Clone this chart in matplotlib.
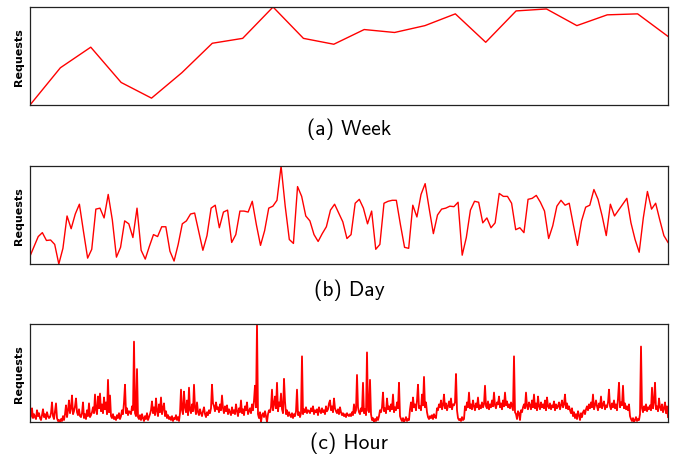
import numpy as np
import matplotlib.pyplot as plt

# Weekly request volume (relative units)
week = [0.00, 0.38, 0.59, 0.23, 0.07, 0.33, 0.63, 0.68, 1.00, 0.68, 0.62,
        0.77, 0.74, 0.81, 0.93, 0.64, 0.96, 0.98, 0.81, 0.92, 0.93, 0.70]

# Daily request volume (relative units)
day = [0.08, 0.18, 0.28, 0.32, 0.24, 0.245, 0.20, 0.00, 0.16, 0.49,
       0.36, 0.51, 0.61, 0.33, 0.06, 0.15, 0.56, 0.57, 0.47, 0.71,
       0.45, 0.07, 0.17, 0.44, 0.41, 0.27, 0.57, 0.14, 0.05, 0.18,
       0.30, 0.28, 0.38, 0.38, 0.13, 0.03, 0.20, 0.41, 0.44, 0.51,
       0.52, 0.33, 0.14, 0.29, 0.57, 0.60, 0.37, 0.53, 0.55, 0.22,
       0.30, 0.54, 0.54, 0.53, 0.64, 0.40, 0.19, 0.34, 0.57, 0.59,
       0.65, 1.00, 0.59, 0.25, 0.21, 0.79, 0.69, 0.49, 0.44, 0.30,
       0.23, 0.31, 0.38, 0.55, 0.61, 0.52, 0.43, 0.26, 0.30, 0.62,
       0.66, 0.57, 0.41, 0.54, 0.15, 0.20, 0.62, 0.64, 0.65, 0.65,
       0.40, 0.17, 0.16, 0.60, 0.48, 0.71, 0.82, 0.56, 0.31, 0.50,
       0.56, 0.57, 0.59, 0.585, 0.63, 0.09, 0.27, 0.55, 0.64, 0.63,
       0.42, 0.47, 0.37, 0.42, 0.72, 0.69, 0.69, 0.62, 0.35, 0.37,
       0.32, 0.66, 0.67, 0.70, 0.63, 0.54, 0.26, 0.39, 0.59, 0.65,
       0.60, 0.62, 0.40, 0.19, 0.44, 0.58, 0.60, 0.76, 0.66, 0.49,
       0.29, 0.61, 0.49, 0.55, 0.61, 0.67, 0.42, 0.25, 0.12, 0.47,
       0.74, 0.56, 0.62, 0.45, 0.29, 0.22]

# Hourly request volume (percent of peak)
hour = [
    3, 6, 14, 4, 8, 5, 3, 12, 6, 9, 4, 2, 7, 13, 5, 8, 3, 10, 6, 4,
    5, 9, 20, 6, 3, 11, 19, 4, 1, 2, 0, 3, 1, 6, 2, 8, 17, 5, 12, 22,
    9, 14, 27, 8, 11, 16, 24, 10, 7, 13, 6, 5, 9, 20, 4, 8, 3, 12, 6, 19,
    5, 7, 10, 15, 9, 28, 12, 8, 26, 14, 29, 11, 18, 9, 25, 13, 20, 8, 43, 10,
    27, 6, 4, 8, 3, 5, 2, 7, 4, 9, 3, 6, 12, 8, 20, 38, 9, 14, 7, 11,
    10, 8, 16, 12, 82, 9, 6, 54, 5, 3, 7, 2, 8, 4, 1, 6, 3, 9, 2, 5,
    8, 12, 21, 9, 15, 7, 24, 11, 6, 18, 10, 25, 8, 14, 19, 6, 11, 4, 7, 3,
    5, 2, 6, 1, 4, 3, 7, 2, 5, 1, 9, 33, 12, 8, 31, 15, 10, 22, 7, 35,
    12, 9, 18, 11, 38, 14, 8, 20, 10, 7, 13, 9, 6, 11, 15, 8, 5, 10, 7, 12,
    9, 14, 38, 19, 16, 11, 20, 13, 15, 10, 18, 12, 27, 14, 9, 16, 11, 17, 8, 13,
    10, 7, 15, 9, 12, 8, 18, 11, 6, 14, 10, 22, 9, 13, 7, 16, 12, 20, 8, 11,
    14, 9, 18, 12, 22, 37, 15, 100, 8, 4, 10, 0, 7, 9, 5, 11, 6, 0, 8, 12,
    10, 15, 33, 12, 18, 26, 14, 40, 11, 20, 16, 29, 13, 9, 44, 21, 8, 12, 6, 10,
    7, 5, 9, 4, 8, 6, 11, 33, 7, 10, 5, 9, 67, 8, 13, 10, 15, 9, 12, 11,
    9, 14, 11, 16, 8, 12, 10, 13, 7, 15, 11, 9, 14, 10, 12, 8, 16, 11, 13, 19,
    22, 12, 16, 10, 24, 14, 11, 9, 13, 8, 15, 10, 7, 9, 6, 8, 5, 9, 7, 6,
    8, 6, 10, 7, 18, 9, 12, 48, 15, 10, 8, 14, 11, 40, 9, 13, 7, 71, 12, 10,
    43, 8, 2, 4, 0, 3, 1, 5, 2, 6, 12, 10, 15, 30, 11, 14, 9, 24, 13, 16,
    11, 18, 13, 28, 10, 15, 12, 20, 14, 40, 6, 3, 1, 4, 0, 2, 5, 1, 3, 2,
    13, 20, 11, 25, 15, 18, 12, 22, 38, 14, 16, 12, 28, 17, 46, 15, 20, 10, 5, 3,
    6, 4, 7, 3, 8, 5, 4, 14, 12, 18, 15, 22, 13, 17, 28, 14, 19, 12, 16, 21,
    15, 24, 13, 18, 17, 20, 49, 12, 4, 2, 3, 1, 5, 2, 3, 16, 12, 20, 15, 30,
    14, 18, 13, 22, 16, 12, 19, 15, 25, 13, 17, 14, 20, 15, 18, 37, 16, 14, 21, 13,
    18, 15, 22, 16, 30, 17, 14, 20, 18, 26, 15, 19, 13, 22, 16, 30, 17, 21, 15, 18,
    14, 20, 16, 12, 67, 10, 8, 3, 11, 9, 2, 12, 10, 15, 18, 14, 30, 16, 13, 20,
    17, 13, 22, 15, 28, 14, 19, 12, 26, 16, 13, 20, 15, 18, 14, 22, 12, 25, 16, 14,
    19, 13, 17, 15, 21, 12, 18, 14, 16, 20, 13, 17, 22, 15, 18, 28, 14, 19, 13, 16,
    12, 9, 14, 6, 10, 4, 8, 3, 11, 7, 2, 9, 5, 10, 12, 8, 13, 16, 12, 18,
    14, 20, 15, 28, 13, 17, 22, 16, 12, 19, 15, 26, 14, 18, 21, 13, 17, 15, 20, 33,
    16, 13, 19, 15, 22, 14, 18, 12, 24, 40, 15, 20, 17, 37, 14, 19, 13, 16, 12, 18,
    6, 3, 1, 4, 0, 2, 5, 1, 3, 2, 8, 77, 14, 10, 16, 12, 18, 11, 15, 13,
    17, 12, 35, 14, 20, 40, 13, 16, 11, 24, 15, 12, 18, 10, 14, 20, 9, 16, 5,
]

series = [week, day, hour]
captions = ["(a) Week", "(b) Day", "(c) Hour"]
widths = [1.0, 1.0, 1.3]

W, H = 676, 460
fig = plt.figure(figsize=(W / 100, H / 100), dpi=100)

# panel boxes in pixels: (top, bottom), caption centre y
panel_rows = [(8, 106, 129), (167, 265, 290), (325, 423, 443)]
left, right = 30, 668

for values, caption, lw, (top, bottom, cap_y) in zip(series, captions, widths, panel_rows):
    ax = fig.add_axes([left / W, 1 - bottom / H, (right - left) / W, (bottom - top) / H])
    y = np.asarray(values, dtype=float)
    x = np.arange(len(y))
    ax.plot(x, y, color="#ff0000", lw=lw)
    ax.set_xlim(0, len(y) - 1)
    ax.set_ylim(y.min(), y.max())
    ax.set_xticks([])
    ax.set_yticks([])
    for sp in ax.spines.values():
        sp.set_linewidth(0.9)
        sp.set_color("#222222")
    ax.set_ylabel("Requests", fontsize=8, fontweight="bold", labelpad=4)
    fig.text((left + right) / 2 / W, 1 - cap_y / H, caption,
             ha="center", va="center", fontsize=15.5, family="cmss10")

fig.savefig("out.png", dpi=100)
